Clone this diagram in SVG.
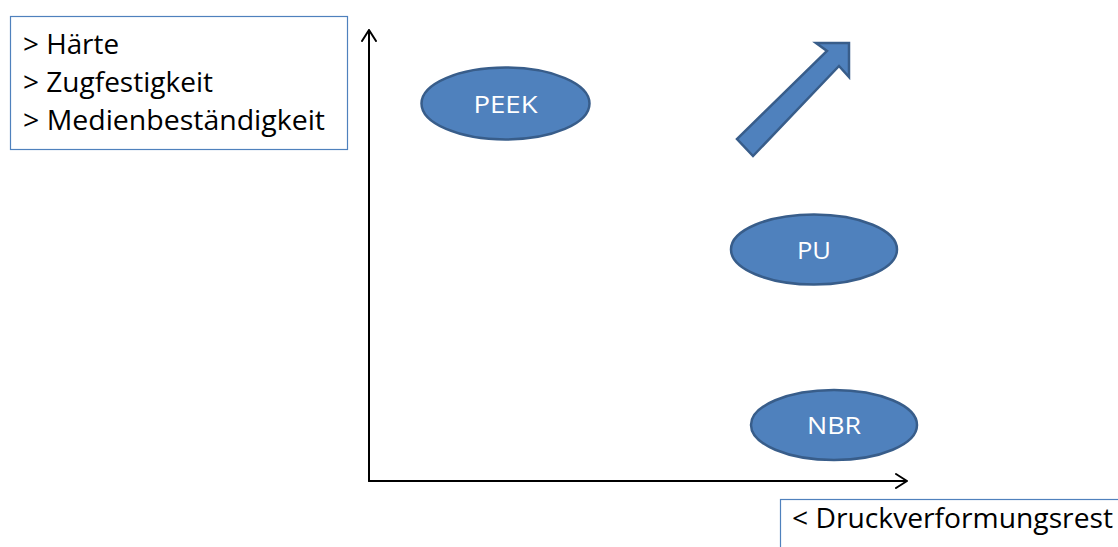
<svg xmlns="http://www.w3.org/2000/svg" width="1118" height="547" viewBox="0 0 1118 547">
  <style>
    .label { font-family: "Open Sans", "Liberation Sans", sans-serif; font-size: 27px; fill: #000; }
    .blob { fill: #4F81BD; stroke: #385D8A; stroke-width: 2.5; }
    .blob-text { font-family: "Open Sans", "Liberation Sans", sans-serif; font-size: 24px; fill: #fff; text-anchor: middle; }
    .frame { fill: #fff; stroke: #4F81BD; stroke-width: 1.2; }
    .axis { fill: none; stroke: #000; stroke-width: 2; stroke-linecap: round; stroke-linejoin: round; }
  </style>

  <rect width="1118" height="547" fill="#fff"/>

  <!-- property legend -->
  <g id="legend-props">
    <rect class="frame" x="10.5" y="16.5" width="337" height="133"/>
    <text class="label" x="23" y="54" textLength="96" lengthAdjust="spacingAndGlyphs">&gt; Härte</text>
    <text class="label" x="23" y="92" textLength="190" lengthAdjust="spacingAndGlyphs">&gt; Zugfestigkeit</text>
    <text class="label" x="23" y="130" textLength="302" lengthAdjust="spacingAndGlyphs">&gt; Medienbeständigkeit</text>
  </g>

  <!-- axes -->
  <g id="axes">
    <path class="axis" d="M369 481 V30 M362 41 L369 30 L376 41"/>
    <path class="axis" d="M369 481 H907 M896 474 L907 481 L896 488"/>
  </g>

  <!-- direction arrow -->
  <g id="trend-arrow">
    <polygon class="blob" points="816,43 849,43 849,77 839,66 753,156 737,139 827,51"/>
  </g>

  <g id="node-peek">
    <ellipse class="blob" cx="505.5" cy="103.5" rx="84" ry="36"/>
    <text class="blob-text" x="505.5" y="112.5" textLength="64" lengthAdjust="spacingAndGlyphs">PEEK</text>
  </g>

  <g id="node-pu">
    <ellipse class="blob" cx="814" cy="249.5" rx="83" ry="35"/>
    <text class="blob-text" x="814" y="258.5" textLength="34" lengthAdjust="spacingAndGlyphs">PU</text>
  </g>

  <g id="node-nbr">
    <ellipse class="blob" cx="834" cy="425" rx="83" ry="35"/>
    <text class="blob-text" x="834" y="434" textLength="54" lengthAdjust="spacingAndGlyphs">NBR</text>
  </g>

  <!-- x-axis legend -->
  <g id="legend-x">
    <rect class="frame" x="780.5" y="499.5" width="345" height="60"/>
    <text class="label" x="792" y="528" textLength="321" lengthAdjust="spacingAndGlyphs">&lt; Druckverformungsrest</text>
  </g>
</svg>
